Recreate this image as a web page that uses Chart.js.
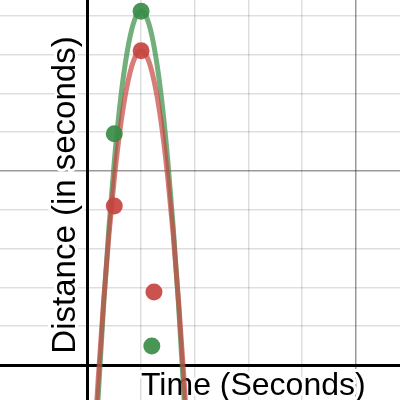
<!DOCTYPE html>
<html>
<head>
<meta charset="utf-8">
<script src="https://cdn.jsdelivr.net/npm/chart.js@4.4.1/dist/chart.umd.min.js"></script>
<style>
  html, body { margin: 0; padding: 0; background: #fff; }
  #wrap { width: 400px; height: 400px; position: relative; }
</style>
</head>
<body>
<div id="wrap"><canvas id="c"></canvas></div>
<script>
// ---- data ----
const curveTime = [0.1, 0.2, 0.3, 0.4, 0.5, 0.6, 0.7, 0.8, 0.9, 1.0, 1.1, 1.2, 1.3, 1.4, 1.5, 1.6, 1.7, 1.8, 1.9];
const greenCurve = [-3.44, -0.8, 1.52, 3.54, 5.24, 6.64, 7.72, 8.5, 8.97, 9.12, 8.97, 8.5, 7.72, 6.64, 5.24, 3.54, 1.52, -0.8, -3.44];
const redCurve = [-2.59, -0.35, 1.63, 3.35, 4.8, 5.99, 6.91, 7.57, 7.97, 8.1, 7.97, 7.57, 6.91, 5.99, 4.8, 3.35, 1.63, -0.35, -2.59];
const greenPtTime = [1.0, 0.5, 1.2];
const greenPtDist = [9.12, 5.96, 0.49];
const redPtTime = [1.0, 0.5, 1.24];
const redPtDist = [8.1, 4.1, 1.88];
const xTitle = "Time (Seconds)";
const yTitle = "Distance (in seconds)";

const zip = (xs, ys) => xs.map((x, i) => ({ x: x, y: ys[i] }));

const GREEN = 'rgba(56,140,70,';
const RED = 'rgba(199,68,64,';

function gridColor(ctx) {
  const v = ctx.tick.value;
  if (v === 0) return '#000';
  if (v % 5 === 0) return 'rgba(0,0,0,0.4)';
  return 'rgba(0,0,0,0.13)';
}
function gridWidth(ctx) {
  return ctx.tick.value === 0 ? 3 : 1.5;
}
const keepInts = s => { s.ticks = s.ticks.filter(t => Number.isInteger(t.value)); };

const labelPlugin = {
  id: 'axisLabels',
  beforeDatasetsDraw(chart) {
    const c = chart.ctx;
    c.save();
    c.fillStyle = '#000';
    c.strokeStyle = '#fff';
    c.lineWidth = 6;
    c.lineJoin = 'round';
    c.textBaseline = 'alphabetic';
    // x title
    c.font = '32px "Liberation Sans", Arial, sans-serif';
    c.textAlign = 'left';
    c.strokeText(xTitle, 141, 395);
    c.fillText(xTitle, 141, 395);
    // y title
    c.translate(75, 195);
    c.rotate(-Math.PI / 2);
    c.font = '33px "Liberation Sans", Arial, sans-serif';
    c.textAlign = 'center';
    c.strokeText(yTitle, 0, 0);
    c.fillText(yTitle, 0, 0);
    c.restore();
  }
};

new Chart(document.getElementById('c'), {
  type: 'scatter',
  data: {
    datasets: [
      {
        label: 'green points', data: zip(greenPtTime, greenPtDist), order: 1,
        showLine: false, pointRadius: 8.5, pointHoverRadius: 8.5,
        backgroundColor: GREEN + '0.92)', borderWidth: 0
      },
      {
        label: 'red points', data: zip(redPtTime, redPtDist), order: 0,
        showLine: false, pointRadius: 8.5, pointHoverRadius: 8.5,
        backgroundColor: RED + '0.92)', borderWidth: 0
      },
      {
        label: 'red curve', data: zip(curveTime, redCurve), order: 2,
        showLine: true, pointRadius: 0, borderWidth: 5,
        borderColor: RED + '0.7)', cubicInterpolationMode: 'monotone', fill: false
      },
      {
        label: 'green curve', data: zip(curveTime, greenCurve), order: 3,
        showLine: true, pointRadius: 0, borderWidth: 5,
        borderColor: GREEN + '0.7)', cubicInterpolationMode: 'monotone', fill: false
      }
    ]
  },
  options: {
    responsive: true,
    maintainAspectRatio: false,
    animation: false,
    events: [],
    layout: { padding: 0, autoPadding: false },
    plugins: { legend: { display: false }, tooltip: { enabled: false } },
    scales: {
      x: {
        type: 'linear', min: -1.632, max: 5.83,
        ticks: { display: false, stepSize: 1 },
        grid: { color: gridColor, lineWidth: gridWidth, drawTicks: false },
        border: { display: false },
        afterBuildTicks: keepInts,
        afterFit: s => { s.height = 0; }
      },
      y: {
        type: 'linear', min: -0.902, max: 9.407,
        ticks: { display: false, stepSize: 1 },
        grid: { color: gridColor, lineWidth: gridWidth, drawTicks: false },
        border: { display: false },
        afterBuildTicks: keepInts,
        afterFit: s => { s.width = 0; }
      }
    }
  },
  plugins: [labelPlugin]
});
</script>
</body>
</html>
